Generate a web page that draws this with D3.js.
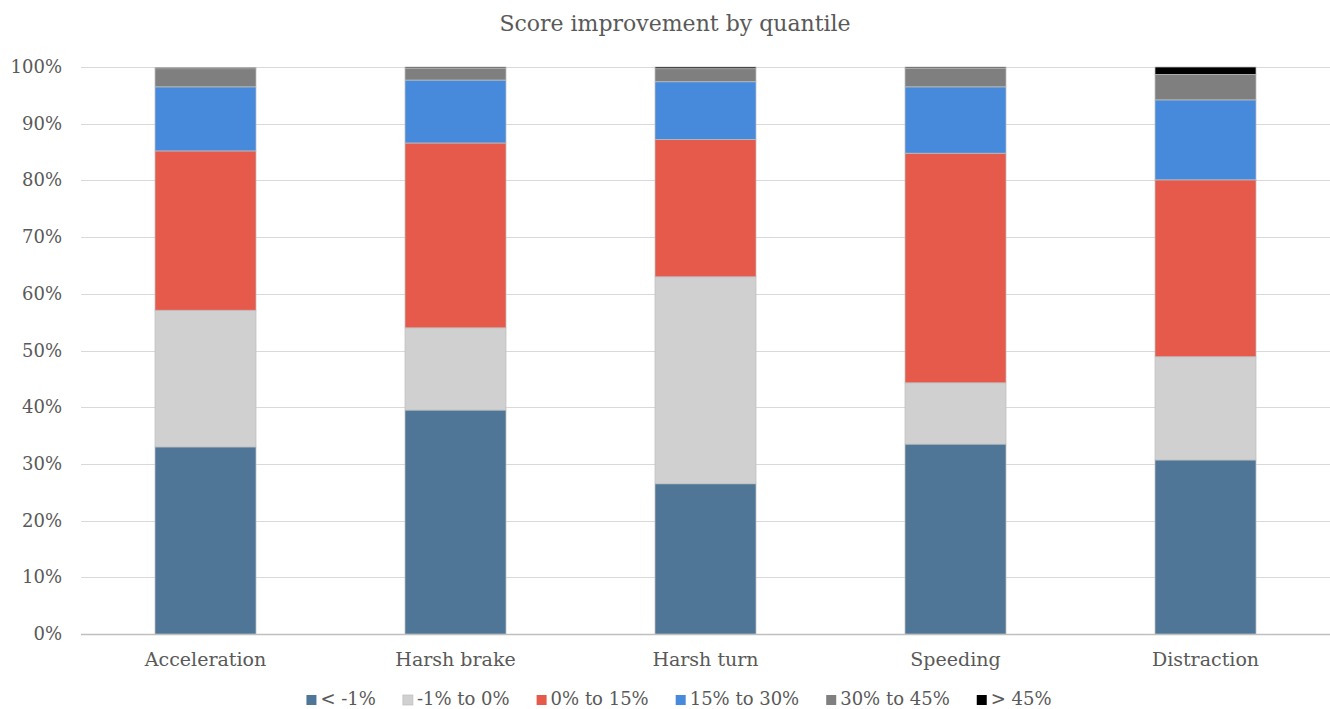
<!DOCTYPE html>
<html><head><meta charset="utf-8">
<script src="https://cdn.jsdelivr.net/npm/d3@7"></script>
<style>body{margin:0;background:#fff}svg{display:block}</style>
</head><body>
<svg id="c" width="1330" height="709"></svg>
<script>
const categories = ["Acceleration","Harsh brake","Harsh turn","Speeding","Distraction"];
const seriesNames = ["< -1%","-1% to 0%","0% to 15%","15% to 30%","30% to 45%","> 45%"];
const seriesColors = ["#4F7697","#D0D0D0","#E65A4B","#4789DA","#7F7F7F","#000000"];
const below1 = [33.0, 39.5, 26.5, 33.5, 30.7];
const m1to0 = [24.1, 14.5, 36.5, 10.8, 18.2];
const p0to15 = [28.1, 32.6, 24.2, 40.5, 31.2];
const p15to30 = [11.3, 11.1, 10.2, 11.7, 14.1];
const p30to45 = [3.2, 2.1, 2.3, 3.3, 4.5];
const above45 = [0.2, 0.2, 0.3, 0.2, 1.3];
const yTicks = [0,10,20,30,40,50,60,70,80,90,100];
const title = "Score improvement by quantile";

const seriesValues = [below1, m1to0, p0to15, p15to30, p30to45, above45];
const rows = categories.map((c,i)=>{const r={cat:c}; seriesNames.forEach((s,j)=>r[s]=seriesValues[j][i]); return r;});
const stacked = d3.stack().keys(seriesNames)(rows);

const svg = d3.select("#c");
const font = "'DejaVu Serif', serif";
const x = d3.scaleBand().domain(categories).range([80.5,1330.5]).paddingInner(0.596).paddingOuter(0.298);
const y = d3.scaleLinear().domain([0,100]).range([634,67]);

svg.append("text").attr("x",675).attr("y",31).attr("text-anchor","middle")
  .attr("font-family",font).attr("font-size",22).attr("fill","#595959").text(title);

// gridlines
svg.append("g").selectAll("line").data(yTicks).join("line")
  .attr("x1",81).attr("x2",1330).attr("y1",d=>Math.round(y(d))+0.5).attr("y2",d=>Math.round(y(d))+0.5)
  .attr("stroke",d=>d===0?"#BFBFBF":"#D9D9D9").attr("stroke-width",d=>d===0?1.5:1.2);

// y labels
svg.append("g").selectAll("text").data(yTicks).join("text")
  .attr("x",62).attr("y",d=>y(d)+6).attr("text-anchor","end")
  .attr("font-family",font).attr("font-size",18).attr("fill","#595959").text(d=>d+"%");

// bars
svg.append("g").selectAll("g").data(stacked).join("g")
  .attr("fill",(d,i)=>seriesColors[i])
  .selectAll("rect").data(d=>d).join("rect")
  .attr("x",d=>x(d.data.cat)).attr("width",x.bandwidth())
  .attr("y",d=>y(d[1])).attr("height",d=>y(d[0])-y(d[1]))
  .attr("stroke","#BFBFBF").attr("stroke-width",0.75);

// x labels
svg.append("g").selectAll("text").data(categories).join("text")
  .attr("x",d=>x(d)+x.bandwidth()/2).attr("y",666).attr("text-anchor","middle")
  .attr("font-family",font).attr("font-size",19).attr("fill","#595959").text(d=>d);

// legend
const lg = svg.append("g");
const items = lg.selectAll("g").data(seriesNames).join("g");
items.append("rect").attr("width",10).attr("height",10).attr("y",-10).attr("fill",(d,i)=>seriesColors[i])
  .attr("stroke",(d,i)=>i===1?"#BFBFBF":"none").attr("stroke-width",0.75);
items.append("text").attr("x",14).attr("y",0).attr("font-family",font).attr("font-size",18).attr("fill","#595959").text(d=>d);
let cx = 0; const pos=[];
items.each(function(){const w=this.getBBox().width; pos.push(cx); cx+=w+27;});
const total = cx-27; const start = 679-total/2;
items.attr("transform",(d,i)=>`translate(${start+pos[i]},705)`);
</script>
</body></html>
